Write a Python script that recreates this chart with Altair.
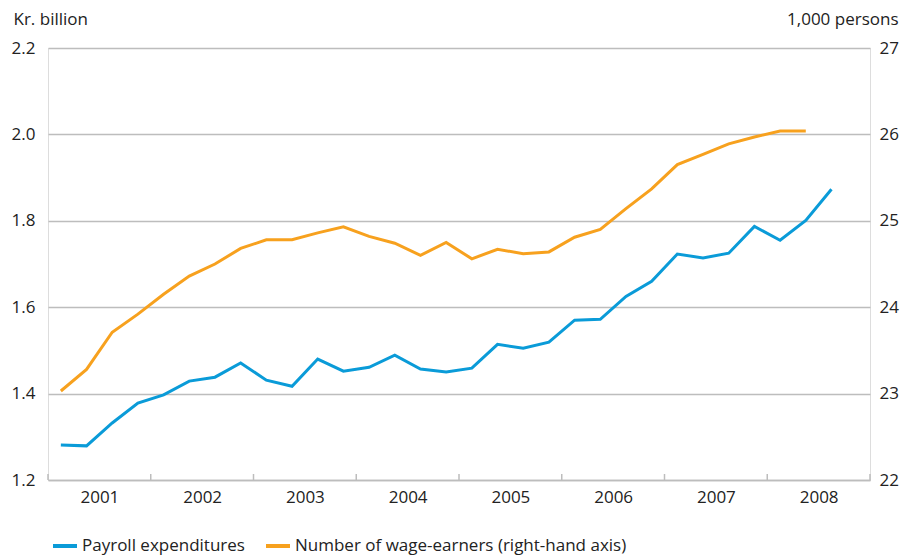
import altair as alt
import pandas as pd

quarters = [f"{y}Q{q}" for y in range(2001, 2009) for q in range(1, 5)]

payroll = [1.281, 1.279, 1.332, 1.378, 1.397, 1.429, 1.438, 1.471,
           1.431, 1.417, 1.480, 1.452, 1.461, 1.489, 1.457, 1.450,
           1.459, 1.514, 1.505, 1.519, 1.570, 1.572, 1.625, 1.660,
           1.723, 1.714, 1.725, 1.787, 1.755, 1.801, 1.873]

wage_earners = [23.03, 23.28, 23.71, 23.92, 24.15, 24.36, 24.50, 24.68,
                24.78, 24.78, 24.86, 24.93, 24.82, 24.74, 24.60, 24.75,
                24.56, 24.67, 24.62, 24.64, 24.81, 24.90, 25.14, 25.37,
                25.65, 25.77, 25.89, 25.97, 26.04, 26.04]

year_labels = [2001, 2002, 2003, 2004, 2005, 2006, 2007, 2008]
year_bounds = [2001, 2002, 2003, 2004, 2005, 2006, 2007, 2008, 2009]

S1 = "Payroll expenditures"
S2 = "Number of wage-earners (right-hand axis)"

def qpos(label):
    y, q = label.split("Q")
    return int(y) + (int(q) - 0.5) / 4

rows = []
for lab, v in zip(quarters, payroll):
    rows.append({"quarter": lab, "t": qpos(lab), "value": v, "series": S1})
for lab, v in zip(quarters, wage_earners):
    rows.append({"quarter": lab, "t": qpos(lab), "value": v, "series": S2})
df = pd.DataFrame(rows)
ticks_df = pd.DataFrame({"t": year_bounds})

FONT = "Open Sans"
FS = 17
TXT = "#222222"
GRID = "#bdbdbd"
BLUE = "#0a9bd8"
ORANGE = "#f7a11e"

W, H = 822, 432

xenc = alt.X("t:Q",
             scale=alt.Scale(domain=[2001, 2009], nice=False, zero=False),
             axis=alt.Axis(values=[y + 0.5 for y in year_labels],
                           labelExpr="toString(floor(datum.value))",
                           ticks=False, grid=False, title=None,
                           domainColor=GRID, domainWidth=1.5,
                           labelFont=FONT, labelFontSize=FS, labelColor=TXT,
                           labelPadding=9))

color = alt.Color("series:N",
                  scale=alt.Scale(domain=[S1, S2], range=[BLUE, ORANGE]),
                  legend=alt.Legend(title=None, orient="none", legendX=3, legendY=484,
                                    direction="horizontal", symbolType="stroke",
                                    symbolSize=576, symbolStrokeWidth=4,
                                    labelFont=FONT, labelFontSize=FS, labelColor=TXT,
                                    labelLimit=0,
                                    labelOffset=3, columnPadding=13))

blue = alt.Chart(df).transform_filter(alt.datum.series == S1).mark_line(
    strokeWidth=3).encode(
    x=xenc,
    y=alt.Y("value:Q", scale=alt.Scale(domain=[1.2, 2.2], nice=False, zero=False),
            axis=alt.Axis(orient="left", values=[1.2, 1.4, 1.6, 1.8, 2.0, 2.2],
                          format=".1f", ticks=False, domain=False,
                          grid=True, gridColor=GRID, gridWidth=1.5,
                          labelFont=FONT, labelFontSize=FS, labelColor=TXT,
                          labelPadding=13,
                          title="Kr. billion", titleAngle=0, titleAlign="left",
                          titleBaseline="middle", titleX=-35, titleY=-29,
                          titleFont=FONT, titleFontSize=FS, titleFontWeight="normal",
                          titleColor=TXT)),
    color=color,
    order="t:Q",
)

orange = alt.Chart(df).transform_filter(alt.datum.series == S2).mark_line(
    strokeWidth=3).encode(
    x=xenc,
    y=alt.Y("value:Q", scale=alt.Scale(domain=[22, 27], nice=False, zero=False),
            axis=alt.Axis(orient="right", values=[22, 23, 24, 25, 26, 27],
                          format="d", ticks=False, domain=False, grid=False,
                          labelFont=FONT, labelFontSize=FS, labelColor=TXT,
                          labelPadding=9,
                          title="1,000 persons", titleAngle=0, titleAlign="right",
                          titleBaseline="middle", titleX=28, titleY=-29,
                          titleFont=FONT, titleFontSize=FS, titleFontWeight="normal",
                          titleColor=TXT)),
    color=color,
    order="t:Q",
)

tickmarks = alt.Chart(ticks_df).mark_rule(color=GRID, strokeWidth=1.5).encode(
    x=alt.X("t:Q"),
    y=alt.value(H - 6),
    y2=alt.value(H),
)

chart = alt.layer(blue, orange, tickmarks).resolve_scale(
    y="independent"
).properties(
    width=W, height=H,
    autosize="none",
    padding={"left": 40, "top": 40, "right": 30, "bottom": 78},
).configure_view(stroke=None).configure(background="white")

chart.save("out.html", embed_options={"renderer": "svg", "actions": False})
